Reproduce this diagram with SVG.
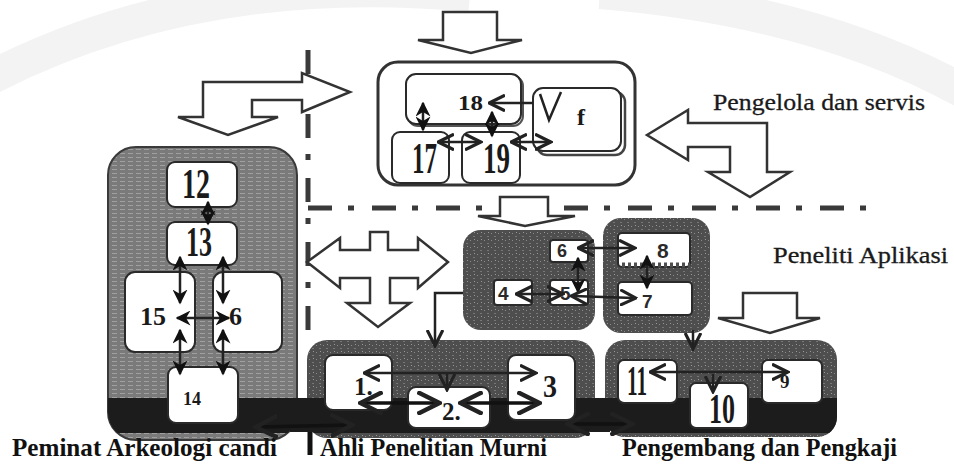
<svg xmlns="http://www.w3.org/2000/svg" width="954" height="465" viewBox="0 0 954 465">
<style>
.lbl{font-family:"Liberation Serif","Times New Roman",serif;fill:#1a1a1a;stroke:#1a1a1a;stroke-width:0.3}
.lblb{font-family:"Liberation Serif","Times New Roman",serif;fill:#111;font-weight:bold}
.num{font-family:"Liberation Serif","Times New Roman",serif;fill:#1a1a1a;font-weight:bold}
.sn{font-family:"Liberation Sans",Arial,sans-serif;fill:#2a2a2a;font-weight:bold}
.wbox{fill:#fff;stroke:#2a2a2a;stroke-width:2}
.big{fill:#fff;stroke:#333;stroke-width:2.5;stroke-linejoin:miter}
.con{fill:none;stroke:#222;stroke-width:2.5}
.conb{fill:none;stroke:#111;stroke-width:3.5}
.dd{fill:none;stroke:#3a3a3a;stroke-width:5;stroke-dasharray:24 16 6 18}
.wm{fill:none;stroke:#f3f3f3;stroke-width:34}
</style>
<defs>
<pattern id="stripe" width="8" height="4" patternUnits="userSpaceOnUse">
<rect width="8" height="4" fill="#7a7a7a"/>
<rect x="0" y="1" width="5" height="1" fill="#a0a0a0"/>
</pattern>
<pattern id="speck" width="7" height="7" patternUnits="userSpaceOnUse">
<rect width="7" height="7" fill="#4e4e4e"/>
<rect x="1" y="2" width="1" height="1" fill="#8a8a8a"/>
<rect x="4" y="5" width="2" height="1" fill="#777"/>
<rect x="5" y="1" width="1" height="1" fill="#999"/>
</pattern>
<marker id="oh" viewBox="0 0 10 10" refX="8" refY="5" markerWidth="7" markerHeight="7" orient="auto-start-reverse" markerUnits="strokeWidth">
<path d="M0,0.5 L9,5 L0,9.5" fill="none" stroke="#222" stroke-width="1.8"/>
</marker>
<marker id="fh" viewBox="0 0 10 10" refX="9" refY="5" markerWidth="6" markerHeight="6" orient="auto-start-reverse" markerUnits="strokeWidth">
<path d="M0,0 L10,5 L0,10 L3,5 Z" fill="#111"/>
</marker>
<clipPath id="bandclip">
<rect x="108" y="147" width="189" height="293" rx="28"/>
<rect x="307" y="340" width="288" height="98" rx="20"/>
<rect x="605" y="340" width="232" height="97" rx="20"/>
<rect x="290" y="398" width="25" height="34"/>
<rect x="590" y="398" width="20" height="34"/>
</clipPath>
</defs>
<rect width="954" height="465" fill="#fff"/>
<g id="watermark">
<path class="wm" d="M-10,78 Q200,-30 470,-5"/>
<path class="wm" d="M600,-8 Q820,10 970,95"/>
</g>
<g id="guides">
<line class="dd" x1="308" y1="50" x2="308" y2="332"/>
<line class="dd" x1="308" y1="208" x2="868" y2="208"/>
</g>
<g id="big-arrows">
<polygon class="big" points="443,12 497,12 497,40 522,40 471,53 418,40 443,40"/>
<polygon class="big" points="203,82 302,82 302,73 350,92 302,112 302,100 252,100 252,117 278,117 228,135 178,117 203,117"/>
<polygon class="big" points="647,135 688,110 688,123 767,123 767,172 790,172 750,197 708,172 730,172 730,147 688,147 688,160"/>
<polygon class="big" points="307,262 340,238 340,250 370,250 370,232 388,232 388,250 418,250 418,238 448,262 418,288 418,278 390,278 390,303 410,303 378,327 347,303 370,303 370,278 340,278 340,288"/>
<polygon class="big" points="500,197 548,197 548,216 575,216 525,226 478,216 500,216"/>
<polygon class="big" points="743,293 797,293 797,318 820,318 770,333 718,318 743,318"/>
</g>
<g id="pengelola">
<rect x="378" y="62" width="257" height="123" rx="20" fill="#fff" stroke="#333" stroke-width="3"/>
<text class="lbl" x="713" y="110" font-size="24" textLength="212" lengthAdjust="spacingAndGlyphs">Pengelola dan servis</text>
</g>
<g id="n18">
<rect x="408" y="76" width="115" height="50" rx="10" fill="none" stroke="#555" stroke-width="2"/>
<rect x="406" y="74" width="115" height="50" rx="10" class="wbox" stroke-width="2.5"/>
<text class="num" x="458" y="110" font-size="22" font-weight="normal" textLength="25" lengthAdjust="spacingAndGlyphs">18</text>
</g>
<g id="nf">
<rect x="537" y="92" width="88" height="63" rx="10" fill="none" stroke="#444" stroke-width="2.5"/>
<rect x="533" y="88" width="88" height="63" rx="10" class="wbox" stroke-width="2.5"/>
<text class="num" x="577" y="125" font-size="24">f</text>
</g>
<g id="n17">
<rect x="392" y="132" width="57" height="51" rx="8" class="wbox"/>
<text class="num" x="412" y="173" font-size="44" textLength="25" lengthAdjust="spacingAndGlyphs">17</text>
</g>
<g id="n19">
<rect x="462" y="132" width="58" height="51" rx="8" class="wbox"/>
<text class="num" x="483" y="173" font-size="44" textLength="27" lengthAdjust="spacingAndGlyphs">19</text>
</g>
<g id="arkeologi">
<rect x="108" y="147" width="189" height="293" rx="28" fill="url(#stripe)" stroke="#3a3a3a" stroke-width="2"/>
<text class="lblb" x="12" y="456" font-size="26" textLength="265" lengthAdjust="spacingAndGlyphs">Peminat Arkeologi candi</text>
</g>
<g id="murni">
<rect x="307" y="340" width="288" height="98" rx="20" fill="url(#speck)"/>
<text class="lblb" x="320" y="456" font-size="26" textLength="227" lengthAdjust="spacingAndGlyphs">Ahli Penelitian Murni</text>
<line x1="310" y1="430" x2="310" y2="455" stroke="#111" stroke-width="5"/>
</g>
<g id="aplikasi-a">
<rect x="463" y="230" width="132" height="100" rx="18" fill="url(#speck)"/>
</g>
<g id="aplikasi-b">
<rect x="603" y="218" width="107" height="115" rx="18" fill="url(#speck)"/>
<text class="lbl" x="773" y="263" font-size="24" textLength="175" lengthAdjust="spacingAndGlyphs">Peneliti Aplikasi</text>
</g>
<g id="pengembang">
<rect x="605" y="340" width="232" height="97" rx="20" fill="url(#speck)"/>
<text class="lblb" x="622" y="456" font-size="26" textLength="275" lengthAdjust="spacingAndGlyphs">Pengembang dan Pengkaji</text>
</g>
<g id="band">
<rect x="100" y="398" width="745" height="35" fill="#1c1c1c" clip-path="url(#bandclip)"/>
</g>
<g id="n12">
<rect x="167" y="162" width="70" height="45" rx="8" class="wbox"/>
<text class="num" x="182" y="198" font-size="42" textLength="28" lengthAdjust="spacingAndGlyphs">12</text>
</g>
<g id="n13">
<rect x="167" y="222" width="70" height="43" rx="8" class="wbox"/>
<text class="num" x="186" y="256" font-size="42" textLength="26" lengthAdjust="spacingAndGlyphs">13</text>
</g>
<g id="n15">
<rect x="125" y="272" width="70" height="80" rx="10" class="wbox"/>
<text class="num" x="140" y="325" font-size="26">15</text>
</g>
<g id="n6a">
<rect x="213" y="272" width="69" height="80" rx="10" class="wbox"/>
<text class="num" x="229" y="325" font-size="26">6</text>
</g>
<g id="n14">
<rect x="168" y="367" width="70" height="56" rx="8" class="wbox"/>
<text class="num" x="183" y="405" font-size="18">14</text>
</g>
<g id="n1">
<rect x="325" y="355" width="67" height="55" rx="8" class="wbox"/>
<text class="num" x="354" y="395" font-size="25" font-weight="normal">1.</text>
</g>
<g id="n2">
<rect x="408" y="387" width="82" height="41" rx="8" class="wbox"/>
<text class="num" x="442" y="420" font-size="25">2.</text>
</g>
<g id="n3">
<rect x="508" y="355" width="67" height="65" rx="8" class="wbox"/>
<text class="num" x="543" y="397" font-size="32" font-weight="normal" textLength="14" lengthAdjust="spacingAndGlyphs">3</text>
</g>
<g id="n6b">
<rect x="550" y="240" width="38" height="22" rx="3" class="wbox" stroke="none"/>
<text class="sn" x="557" y="257" font-size="18">6</text>
</g>
<g id="n4">
<rect x="494" y="280" width="38" height="25" rx="3" class="wbox" stroke="none"/>
<text class="sn" x="498" y="300" font-size="19">4</text>
</g>
<g id="n5">
<rect x="550" y="280" width="38" height="25" rx="3" class="wbox" stroke="none"/>
<text class="sn" x="560" y="300" font-size="19">5</text>
</g>
<g id="n8">
<rect x="618" y="233" width="72" height="34" rx="4" class="wbox" stroke="none"/>
<line x1="622" y1="265" x2="690" y2="265" stroke="#4e4e4e" stroke-width="5" stroke-dasharray="3 3"/>
<text class="sn" x="657" y="258" font-size="21">8</text>
</g>
<g id="n7">
<rect x="618" y="282" width="74" height="33" rx="4" class="wbox" stroke="none"/>
<text class="sn" x="642" y="308" font-size="19">7</text>
</g>
<g id="n11">
<rect x="618" y="360" width="59" height="43" rx="6" class="wbox"/>
<text class="num" x="627" y="395" font-size="42" textLength="20" lengthAdjust="spacingAndGlyphs">11</text>
</g>
<g id="n10">
<rect x="690" y="383" width="58" height="45" rx="6" class="wbox"/>
<text class="num" x="709" y="423" font-size="42" textLength="26" lengthAdjust="spacingAndGlyphs">10</text>
</g>
<g id="n9">
<rect x="762" y="360" width="60" height="43" rx="6" class="wbox"/>
<text class="num" x="780" y="388" font-size="19" font-weight="normal">9</text>
</g>
<g id="connectors">
<line class="con" x1="423" y1="130" x2="423" y2="103" marker-start="url(#fh)" marker-end="url(#fh)"/>
<line class="con" x1="492" y1="136" x2="492" y2="112" marker-start="url(#fh)" marker-end="url(#fh)"/>
<line class="con" x1="440" y1="142" x2="479" y2="142" marker-start="url(#oh)" marker-end="url(#oh)"/>
<line class="con" x1="513" y1="142" x2="549" y2="142" marker-start="url(#oh)" marker-end="url(#oh)"/>
<line class="con" x1="533" y1="103" x2="491" y2="103" marker-end="url(#oh)" stroke-width="3"/>
<path class="con" d="M540,94 L549,120 L561,92" stroke-width="3.5"/>
<line class="con" x1="208" y1="202" x2="208" y2="224" marker-start="url(#fh)" marker-end="url(#fh)"/>
<line class="con" x1="180" y1="257" x2="180" y2="303" marker-start="url(#fh)" marker-end="url(#fh)" stroke-width="3"/>
<line class="con" x1="223" y1="257" x2="223" y2="303" marker-start="url(#fh)" marker-end="url(#fh)" stroke-width="3"/>
<line class="con" x1="180" y1="330" x2="180" y2="374" marker-start="url(#fh)" marker-end="url(#fh)" stroke-width="3"/>
<line class="con" x1="223" y1="330" x2="223" y2="374" marker-start="url(#fh)" marker-end="url(#fh)" stroke-width="3"/>
<line class="con" x1="177" y1="318" x2="229" y2="318" marker-start="url(#fh)" marker-end="url(#fh)" stroke-width="4"/>
<line class="conb" x1="258" y1="427" x2="350" y2="425" marker-start="url(#oh)" marker-end="url(#oh)"/>
<polyline class="con" points="463,293 435,293 435,344" marker-end="url(#oh)"/>
<line class="con" x1="447" y1="372" x2="447" y2="388" marker-end="url(#oh)"/>
<line class="con" x1="366" y1="373" x2="534" y2="373" marker-start="url(#oh)" marker-end="url(#oh)"/>
<line class="conb" x1="363" y1="403" x2="437" y2="403" marker-start="url(#oh)" marker-end="url(#oh)"/>
<line class="conb" x1="463" y1="403" x2="537" y2="403" marker-start="url(#oh)" marker-end="url(#oh)"/>
<line class="conb" x1="570" y1="424" x2="630" y2="424" marker-start="url(#oh)" marker-end="url(#oh)"/>
<line class="con" x1="580" y1="248" x2="633" y2="248" marker-start="url(#oh)" marker-end="url(#oh)"/>
<line class="con" x1="578" y1="258" x2="578" y2="292" marker-start="url(#fh)" marker-end="url(#fh)" stroke-width="3"/>
<line class="con" x1="518" y1="294" x2="561" y2="294" marker-start="url(#oh)" marker-end="url(#oh)"/>
<line class="con" x1="573" y1="296" x2="634" y2="298" marker-start="url(#oh)" marker-end="url(#oh)"/>
<line class="con" x1="647" y1="256" x2="647" y2="288" marker-start="url(#fh)" marker-end="url(#fh)" stroke-width="3"/>
<line class="con" x1="693" y1="330" x2="693" y2="347" marker-end="url(#oh)"/>
<line class="con" x1="652" y1="372" x2="786" y2="372" marker-start="url(#oh)" marker-end="url(#oh)"/>
<line class="con" x1="713" y1="374" x2="713" y2="390" marker-end="url(#oh)"/>
</g>
</svg>
